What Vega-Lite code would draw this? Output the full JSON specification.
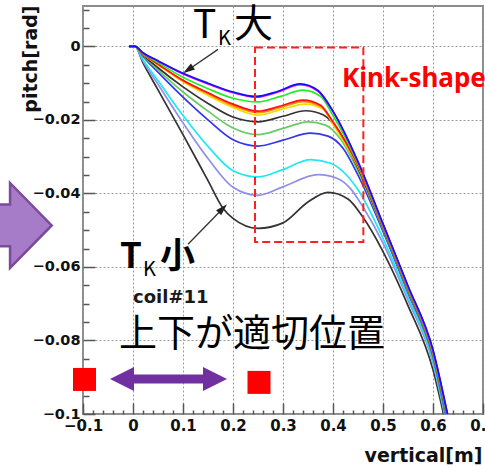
{
  "$schema": "https://vega.github.io/schema/vega-lite/v6.json",
  "width": 400,
  "height": 408,
  "autosize": {"type": "none"},
  "padding": {"left": 83, "top": 6, "right": 2, "bottom": 54},
  "background": "white",
  "config": {
    "view": {"stroke": "#8c8c8c", "strokeWidth": 2},
    "axis": {"labelOverlap": false, "labelFlush": false, "labelBound": false}
  },
  "resolve": {"axis": {"x": "independent", "y": "independent"}},
  "datasets": {
    "curves": [
      {"c": "k2", "x": -0.008, "y": 0}, {"c": "k2", "x": 0.004, "y": 0}, {"c": "k2", "x": 0.02, "y": -0.0045}, {"c": "k2", "x": 0.05, "y": -0.0118}, {"c": "k2", "x": 0.1, "y": -0.024}, {"c": "k2", "x": 0.15, "y": -0.0365}, {"c": "k2", "x": 0.18, "y": -0.044}, {"c": "k2", "x": 0.2, "y": -0.0468}, {"c": "k2", "x": 0.25, "y": -0.0495}, {"c": "k2", "x": 0.3, "y": -0.048}, {"c": "k2", "x": 0.35, "y": -0.0423}, {"c": "k2", "x": 0.39, "y": -0.0397}, {"c": "k2", "x": 0.43, "y": -0.0415}, {"c": "k2", "x": 0.46, "y": -0.0465}, {"c": "k2", "x": 0.5, "y": -0.0558}, {"c": "k2", "x": 0.55, "y": -0.0705}, {"c": "k2", "x": 0.6, "y": -0.088}, {"c": "k2", "x": 0.621, "y": -0.1},
      {"c": "lav", "x": -0.008, "y": 0}, {"c": "lav", "x": 0.004, "y": 0}, {"c": "lav", "x": 0.02, "y": -0.004}, {"c": "lav", "x": 0.05, "y": -0.0103}, {"c": "lav", "x": 0.1, "y": -0.0208}, {"c": "lav", "x": 0.15, "y": -0.0305}, {"c": "lav", "x": 0.2, "y": -0.0383}, {"c": "lav", "x": 0.25, "y": -0.0405}, {"c": "lav", "x": 0.3, "y": -0.0382}, {"c": "lav", "x": 0.37, "y": -0.0349}, {"c": "lav", "x": 0.41, "y": -0.036}, {"c": "lav", "x": 0.435, "y": -0.0387}, {"c": "lav", "x": 0.46, "y": -0.0437}, {"c": "lav", "x": 0.5, "y": -0.0535}, {"c": "lav", "x": 0.55, "y": -0.069}, {"c": "lav", "x": 0.6, "y": -0.0862}, {"c": "lav", "x": 0.623, "y": -0.1},
      {"c": "cy", "x": -0.008, "y": 0}, {"c": "cy", "x": 0.004, "y": 0}, {"c": "cy", "x": 0.02, "y": -0.0036}, {"c": "cy", "x": 0.05, "y": -0.0093}, {"c": "cy", "x": 0.1, "y": -0.0188}, {"c": "cy", "x": 0.15, "y": -0.0272}, {"c": "cy", "x": 0.2, "y": -0.0338}, {"c": "cy", "x": 0.25, "y": -0.0355}, {"c": "cy", "x": 0.3, "y": -0.0335}, {"c": "cy", "x": 0.355, "y": -0.0308}, {"c": "cy", "x": 0.395, "y": -0.0318}, {"c": "cy", "x": 0.425, "y": -0.0347}, {"c": "cy", "x": 0.45, "y": -0.039}, {"c": "cy", "x": 0.5, "y": -0.0522}, {"c": "cy", "x": 0.55, "y": -0.0682}, {"c": "cy", "x": 0.6, "y": -0.0855}, {"c": "cy", "x": 0.624, "y": -0.1},
      {"c": "b2", "x": -0.008, "y": 0}, {"c": "b2", "x": 0.004, "y": 0}, {"c": "b2", "x": 0.02, "y": -0.0027}, {"c": "b2", "x": 0.05, "y": -0.007}, {"c": "b2", "x": 0.1, "y": -0.0138}, {"c": "b2", "x": 0.15, "y": -0.02}, {"c": "b2", "x": 0.2, "y": -0.0254}, {"c": "b2", "x": 0.25, "y": -0.0271}, {"c": "b2", "x": 0.3, "y": -0.0255}, {"c": "b2", "x": 0.355, "y": -0.0236}, {"c": "b2", "x": 0.39, "y": -0.0244}, {"c": "b2", "x": 0.42, "y": -0.0277}, {"c": "b2", "x": 0.45, "y": -0.035}, {"c": "b2", "x": 0.5, "y": -0.0503}, {"c": "b2", "x": 0.55, "y": -0.067}, {"c": "b2", "x": 0.6, "y": -0.0845}, {"c": "b2", "x": 0.625, "y": -0.1},
      {"c": "lg", "x": -0.008, "y": 0}, {"c": "lg", "x": 0.004, "y": 0}, {"c": "lg", "x": 0.02, "y": -0.0025}, {"c": "lg", "x": 0.05, "y": -0.0064}, {"c": "lg", "x": 0.1, "y": -0.0124}, {"c": "lg", "x": 0.15, "y": -0.0176}, {"c": "lg", "x": 0.2, "y": -0.0222}, {"c": "lg", "x": 0.25, "y": -0.024}, {"c": "lg", "x": 0.3, "y": -0.0223}, {"c": "lg", "x": 0.35, "y": -0.0205}, {"c": "lg", "x": 0.385, "y": -0.0214}, {"c": "lg", "x": 0.415, "y": -0.0252}, {"c": "lg", "x": 0.45, "y": -0.0339}, {"c": "lg", "x": 0.5, "y": -0.0497}, {"c": "lg", "x": 0.55, "y": -0.0665}, {"c": "lg", "x": 0.6, "y": -0.0841}, {"c": "lg", "x": 0.626, "y": -0.1},
      {"c": "k", "x": -0.008, "y": 0}, {"c": "k", "x": 0.004, "y": 0}, {"c": "k", "x": 0.02, "y": -0.0023}, {"c": "k", "x": 0.05, "y": -0.0058}, {"c": "k", "x": 0.1, "y": -0.011}, {"c": "k", "x": 0.15, "y": -0.0155}, {"c": "k", "x": 0.2, "y": -0.0192}, {"c": "k", "x": 0.25, "y": -0.0205}, {"c": "k", "x": 0.3, "y": -0.019}, {"c": "k", "x": 0.345, "y": -0.0175}, {"c": "k", "x": 0.38, "y": -0.0186}, {"c": "k", "x": 0.41, "y": -0.0227}, {"c": "k", "x": 0.45, "y": -0.0332}, {"c": "k", "x": 0.5, "y": -0.0493}, {"c": "k", "x": 0.55, "y": -0.0662}, {"c": "k", "x": 0.6, "y": -0.0838}, {"c": "k", "x": 0.627, "y": -0.1},
      {"c": "yl", "x": -0.008, "y": 0}, {"c": "yl", "x": 0.004, "y": 0}, {"c": "yl", "x": 0.02, "y": -0.0021}, {"c": "yl", "x": 0.05, "y": -0.005}, {"c": "yl", "x": 0.1, "y": -0.0096}, {"c": "yl", "x": 0.15, "y": -0.0133}, {"c": "yl", "x": 0.2, "y": -0.0166}, {"c": "yl", "x": 0.25, "y": -0.0187}, {"c": "yl", "x": 0.295, "y": -0.0172}, {"c": "yl", "x": 0.345, "y": -0.0157}, {"c": "yl", "x": 0.38, "y": -0.017}, {"c": "yl", "x": 0.4, "y": -0.0212}, {"c": "yl", "x": 0.45, "y": -0.0327}, {"c": "yl", "x": 0.5, "y": -0.049}, {"c": "yl", "x": 0.55, "y": -0.0659}, {"c": "yl", "x": 0.6, "y": -0.0834}, {"c": "yl", "x": 0.628, "y": -0.1},
      {"c": "or", "x": -0.008, "y": 0}, {"c": "or", "x": 0.004, "y": 0}, {"c": "or", "x": 0.02, "y": -0.0021}, {"c": "or", "x": 0.05, "y": -0.0049}, {"c": "or", "x": 0.1, "y": -0.0094}, {"c": "or", "x": 0.15, "y": -0.0129}, {"c": "or", "x": 0.2, "y": -0.0161}, {"c": "or", "x": 0.25, "y": -0.018}, {"c": "or", "x": 0.295, "y": -0.0166}, {"c": "or", "x": 0.34, "y": -0.015}, {"c": "or", "x": 0.375, "y": -0.0163}, {"c": "or", "x": 0.4, "y": -0.0208}, {"c": "or", "x": 0.45, "y": -0.0325}, {"c": "or", "x": 0.5, "y": -0.0489}, {"c": "or", "x": 0.55, "y": -0.0658}, {"c": "or", "x": 0.6, "y": -0.0833}, {"c": "or", "x": 0.628, "y": -0.1},
      {"c": "rd", "x": -0.008, "y": 0}, {"c": "rd", "x": 0.004, "y": 0}, {"c": "rd", "x": 0.02, "y": -0.002}, {"c": "rd", "x": 0.05, "y": -0.0048}, {"c": "rd", "x": 0.1, "y": -0.0092}, {"c": "rd", "x": 0.15, "y": -0.0126}, {"c": "rd", "x": 0.2, "y": -0.0157}, {"c": "rd", "x": 0.25, "y": -0.0176}, {"c": "rd", "x": 0.295, "y": -0.0162}, {"c": "rd", "x": 0.34, "y": -0.0146}, {"c": "rd", "x": 0.375, "y": -0.016}, {"c": "rd", "x": 0.4, "y": -0.0205}, {"c": "rd", "x": 0.45, "y": -0.0323}, {"c": "rd", "x": 0.5, "y": -0.0488}, {"c": "rd", "x": 0.55, "y": -0.0657}, {"c": "rd", "x": 0.6, "y": -0.0832}, {"c": "rd", "x": 0.628, "y": -0.1},
      {"c": "gr", "x": -0.008, "y": 0}, {"c": "gr", "x": 0.004, "y": 0}, {"c": "gr", "x": 0.02, "y": -0.0019}, {"c": "gr", "x": 0.05, "y": -0.0044}, {"c": "gr", "x": 0.1, "y": -0.0084}, {"c": "gr", "x": 0.15, "y": -0.0115}, {"c": "gr", "x": 0.2, "y": -0.0141}, {"c": "gr", "x": 0.25, "y": -0.0151}, {"c": "gr", "x": 0.295, "y": -0.0136}, {"c": "gr", "x": 0.34, "y": -0.0119}, {"c": "gr", "x": 0.375, "y": -0.0136}, {"c": "gr", "x": 0.4, "y": -0.0188}, {"c": "gr", "x": 0.45, "y": -0.0319}, {"c": "gr", "x": 0.5, "y": -0.0486}, {"c": "gr", "x": 0.55, "y": -0.0655}, {"c": "gr", "x": 0.6, "y": -0.083}, {"c": "gr", "x": 0.628, "y": -0.1},
      {"c": "mg", "x": -0.008, "y": 0}, {"c": "mg", "x": 0.004, "y": 0}, {"c": "mg", "x": 0.02, "y": -0.0018}, {"c": "mg", "x": 0.05, "y": -0.004}, {"c": "mg", "x": 0.1, "y": -0.0075}, {"c": "mg", "x": 0.15, "y": -0.0102}, {"c": "mg", "x": 0.2, "y": -0.0126}, {"c": "mg", "x": 0.245, "y": -0.0138}, {"c": "mg", "x": 0.29, "y": -0.0124}, {"c": "mg", "x": 0.334, "y": -0.0104}, {"c": "mg", "x": 0.37, "y": -0.0122}, {"c": "mg", "x": 0.4, "y": -0.0178}, {"c": "mg", "x": 0.45, "y": -0.0315}, {"c": "mg", "x": 0.5, "y": -0.0484}, {"c": "mg", "x": 0.55, "y": -0.0653}, {"c": "mg", "x": 0.6, "y": -0.0828}, {"c": "mg", "x": 0.629, "y": -0.1},
      {"c": "bl", "x": -0.008, "y": 0}, {"c": "bl", "x": 0.004, "y": 0}, {"c": "bl", "x": 0.02, "y": -0.0017}, {"c": "bl", "x": 0.05, "y": -0.0039}, {"c": "bl", "x": 0.1, "y": -0.0073}, {"c": "bl", "x": 0.15, "y": -0.01}, {"c": "bl", "x": 0.2, "y": -0.0124}, {"c": "bl", "x": 0.245, "y": -0.0136}, {"c": "bl", "x": 0.29, "y": -0.0122}, {"c": "bl", "x": 0.334, "y": -0.0102}, {"c": "bl", "x": 0.37, "y": -0.012}, {"c": "bl", "x": 0.4, "y": -0.0176}, {"c": "bl", "x": 0.45, "y": -0.0313}, {"c": "bl", "x": 0.5, "y": -0.0482}, {"c": "bl", "x": 0.55, "y": -0.0651}, {"c": "bl", "x": 0.6, "y": -0.0825}, {"c": "bl", "x": 0.629, "y": -0.1}
    ]
  },
  "layer": [
    {
      "data": {"name": "curves"},
      "mark": {"type": "line", "interpolate": "monotone", "strokeWidth": 1.7, "clip": true},
      "encoding": {
        "x": {
          "field": "x", "type": "quantitative",
          "scale": {"domain": [-0.1, 0.7], "nice": false, "zero": false},
          "axis": {
            "orient": "bottom",
            "title": "vertical[m]",
            "values": [-0.1, 0, 0.1, 0.2, 0.3, 0.4, 0.5, 0.6, 0.7],
            "format": ".1~f",
            "labelFont": "DejaVu Sans", "labelFontWeight": "bold", "labelFontSize": 15, "labelColor": "#111111",
            "labelBaseline": "top", "labelAlign": "center", "labelPadding": 15,
            "tickSize": -11, "tickColor": "#555555", "tickWidth": 1.5,
            "grid": true, "gridColor": "#9a9a9a", "gridDash": [2, 2], "gridWidth": 1,
            "domain": false,
            "titleFont": "DejaVu Sans", "titleFontWeight": "bold", "titleFontSize": 19, "titleColor": "#111111",
            "titleAlign": "right", "titleBaseline": "alphabetic", "titleAngle": 0, "titleX": 399, "titleY": 47
          }
        },
        "y": {
          "field": "y", "type": "quantitative",
          "scale": {"domain": [-0.1, 0.011], "nice": false, "zero": false},
          "axis": {
            "orient": "left",
            "title": "pitch[rad]",
            "values": [0, -0.02, -0.04, -0.06, -0.08, -0.1],
            "format": ".2~f",
            "labelFont": "DejaVu Sans", "labelFontWeight": "bold", "labelFontSize": 14.5, "labelColor": "#111111",
            "labelBaseline": "middle", "labelAlign": "right", "labelPadding": 15,
            "tickSize": -12, "tickColor": "#555555", "tickWidth": 1.5,
            "grid": true, "gridColor": "#9a9a9a", "gridDash": [2, 2], "gridWidth": 1,
            "domain": false,
            "titleFont": "DejaVu Sans", "titleFontWeight": "bold", "titleFontSize": 19, "titleColor": "#111111",
            "titleAngle": -90, "titleAlign": "right", "titleBaseline": "alphabetic", "titleX": -47, "titleY": -1
          }
        },
        "color": {
          "field": "c", "type": "nominal", "legend": null,
          "scale": {
            "domain": ["k2", "lav", "cy", "b2", "lg", "k", "yl", "or", "rd", "gr", "mg", "bl"],
            "range": ["#333333", "#8f8fe8", "#1ee8f0", "#3535f0", "#66cc66", "#333333", "#f0dc00", "#ff8c00", "#ff1010", "#22ee22", "#ff00ff", "#1010ff"]
          }
        }
      }
    },
    {
      "data": {"values": [{"x": 0.244, "x2": 0.4607, "y": -0.0003, "y2": -0.0532}]},
      "mark": {"type": "rect", "fillOpacity": 0, "stroke": "#ff2020", "strokeWidth": 2, "strokeDash": [8, 4]},
      "encoding": {
        "x": {
          "field": "x", "type": "quantitative",
          "axis": {
            "orient": "bottom", "title": null, "labels": false, "grid": false, "domain": false,
            "values": [-0.08, -0.06, -0.04, -0.02, 0.02, 0.04, 0.06, 0.08, 0.12, 0.14, 0.16, 0.18, 0.22, 0.24, 0.26, 0.28, 0.32, 0.34, 0.36, 0.38, 0.42, 0.44, 0.46, 0.48, 0.52, 0.54, 0.56, 0.58, 0.62, 0.64, 0.66, 0.68],
            "tickSize": -4, "tickColor": "#555555", "tickWidth": 1.5
          }
        },
        "x2": {"field": "x2"},
        "y": {
          "field": "y", "type": "quantitative",
          "axis": {
            "orient": "left", "title": null, "labels": false, "grid": false, "domain": false,
            "values": [0.01, 0.005, -0.005, -0.01, -0.015, -0.025, -0.03, -0.035, -0.045, -0.05, -0.055, -0.065, -0.07, -0.075, -0.085, -0.09, -0.095],
            "tickSize": -6, "tickColor": "#555555", "tickWidth": 1.5
          }
        },
        "y2": {"field": "y2"}
      }
    },
    {
      "data": {"values": [{"x": 0.418, "y": -0.0111, "t": "Kink-shape"}]},
      "mark": {"type": "text", "font": "Noto Sans", "fontSize": 26, "fontWeight": "bold", "color": "#ff0000", "align": "left", "baseline": "alphabetic"},
      "encoding": {
        "x": {"field": "x", "type": "quantitative", "axis": null},
        "y": {"field": "y", "type": "quantitative", "axis": null},
        "text": {"field": "t"}
      }
    },
    {
      "data": {"values": [{"x": 0.17, "y": -0.0008, "x2": 0.11, "y2": -0.0064}, {"x": 0.11, "y": -0.0538, "x2": 0.1796, "y2": -0.0441}]},
      "mark": {"type": "rule", "color": "#333333", "strokeWidth": 1.3},
      "encoding": {
        "x": {"field": "x", "type": "quantitative", "axis": null},
        "y": {"field": "y", "type": "quantitative", "axis": null},
        "x2": {"field": "x2"},
        "y2": {"field": "y2"}
      }
    },
    {
      "data": {"values": [{"x": 0.11, "y": -0.0064}]},
      "mark": {"type": "point", "shape": "M0,-1 L0.6,1 L-0.6,1 Z", "size": 144, "angle": 235.5, "filled": true, "color": "#222222", "opacity": 1, "strokeWidth": 0},
      "encoding": {
        "x": {"field": "x", "type": "quantitative", "axis": null},
        "y": {"field": "y", "type": "quantitative", "axis": null}
      }
    },
    {
      "data": {"values": [{"x": 0.1796, "y": -0.0441}]},
      "mark": {"type": "point", "shape": "M0,-1 L0.6,1 L-0.6,1 Z", "size": 144, "angle": 44.3, "filled": true, "color": "#222222", "opacity": 1, "strokeWidth": 0},
      "encoding": {
        "x": {"field": "x", "type": "quantitative", "axis": null},
        "y": {"field": "y", "type": "quantitative", "axis": null}
      }
    },
    {
      "data": {"values": [{"x": 0.12, "y": 0.0024, "t": "T"}, {"x": 0.202, "y": 0.0027, "t": "大"}]},
      "mark": {"type": "text", "font": "Noto Sans CJK JP", "fontSize": 39, "fontWeight": "normal", "color": "#000000", "align": "left", "baseline": "alphabetic"},
      "encoding": {
        "x": {"field": "x", "type": "quantitative", "axis": null},
        "y": {"field": "y", "type": "quantitative", "axis": null},
        "text": {"field": "t"}
      }
    },
    {
      "data": {"values": [{"x": 0.17, "y": 0.0003, "t": "K"}, {"x": 0.02, "y": -0.0624, "t": "K"}]},
      "mark": {"type": "text", "font": "Noto Sans CJK JP", "fontSize": 20, "fontWeight": "normal", "color": "#000000", "align": "left", "baseline": "alphabetic"},
      "encoding": {
        "x": {"field": "x", "type": "quantitative", "axis": null},
        "y": {"field": "y", "type": "quantitative", "axis": null},
        "text": {"field": "t"}
      }
    },
    {
      "data": {"values": [{"x": -0.026, "y": -0.0603, "t": "T"}, {"x": 0.054, "y": -0.0603, "t": "小"}]},
      "mark": {"type": "text", "font": "Noto Sans CJK JP", "fontSize": 35, "fontWeight": "bold", "color": "#000000", "align": "left", "baseline": "alphabetic"},
      "encoding": {
        "x": {"field": "x", "type": "quantitative", "axis": null},
        "y": {"field": "y", "type": "quantitative", "axis": null},
        "text": {"field": "t"}
      }
    },
    {
      "data": {"values": [{"x": 0.0, "y": -0.0697, "t": "coil#11"}]},
      "mark": {"type": "text", "font": "DejaVu Sans", "fontSize": 18, "fontWeight": "bold", "color": "#1a1a1a", "align": "left", "baseline": "alphabetic"},
      "encoding": {
        "x": {"field": "x", "type": "quantitative", "axis": null},
        "y": {"field": "y", "type": "quantitative", "axis": null},
        "text": {"field": "t"}
      }
    },
    {
      "data": {"values": [{"x": -0.028, "y": -0.0814, "t": "上下が適切位置"}]},
      "mark": {"type": "text", "font": "Noto Sans CJK JP", "fontSize": 38, "fontWeight": "normal", "color": "#000000", "align": "left", "baseline": "alphabetic"},
      "encoding": {
        "x": {"field": "x", "type": "quantitative", "axis": null},
        "y": {"field": "y", "type": "quantitative", "axis": null},
        "text": {"field": "t"}
      }
    },
    {
      "data": {"values": [{"x": -0.097, "y": -0.0906}, {"x": 0.252, "y": -0.0914}]},
      "mark": {"type": "point", "shape": "square", "size": 529, "filled": true, "color": "#ff0000", "opacity": 1, "strokeWidth": 0},
      "encoding": {
        "x": {"field": "x", "type": "quantitative", "axis": null},
        "y": {"field": "y", "type": "quantitative", "axis": null}
      }
    },
    {
      "data": {"values": [{"x": -0.022, "x2": 0.164, "y": -0.0905}]},
      "mark": {"type": "rule", "color": "#7030a0", "strokeWidth": 9},
      "encoding": {
        "x": {"field": "x", "type": "quantitative", "axis": null},
        "x2": {"field": "x2"},
        "y": {"field": "y", "type": "quantitative", "axis": null}
      }
    },
    {
      "data": {"values": [{"x": -0.022, "y": -0.0905}]},
      "mark": {"type": "point", "shape": "M1,-1 L-1,0 L1,1 Z", "size": 576, "filled": true, "color": "#7030a0", "opacity": 1, "strokeWidth": 0},
      "encoding": {
        "x": {"field": "x", "type": "quantitative", "axis": null},
        "y": {"field": "y", "type": "quantitative", "axis": null}
      }
    },
    {
      "data": {"values": [{"x": 0.164, "y": -0.0905}]},
      "mark": {"type": "point", "shape": "M-1,-1 L1,0 L-1,1 Z", "size": 576, "filled": true, "color": "#7030a0", "opacity": 1, "strokeWidth": 0},
      "encoding": {
        "x": {"field": "x", "type": "quantitative", "axis": null},
        "y": {"field": "y", "type": "quantitative", "axis": null}
      }
    },
    {
      "data": {"values": [{"x": -0.2476, "y": -0.0487}]},
      "mark": {"type": "point", "shape": "M-1,-0.49 L0.02,-0.49 L0.02,-1 L1,0 L0.02,1 L0.02,0.49 L-1,0.49 Z", "size": 7225, "filled": true, "fill": "#a67bc8", "stroke": "#7a4b9c", "strokeWidth": 2.5, "opacity": 1},
      "encoding": {
        "x": {"field": "x", "type": "quantitative", "axis": null},
        "y": {"field": "y", "type": "quantitative", "axis": null}
      }
    }
  ]
}
